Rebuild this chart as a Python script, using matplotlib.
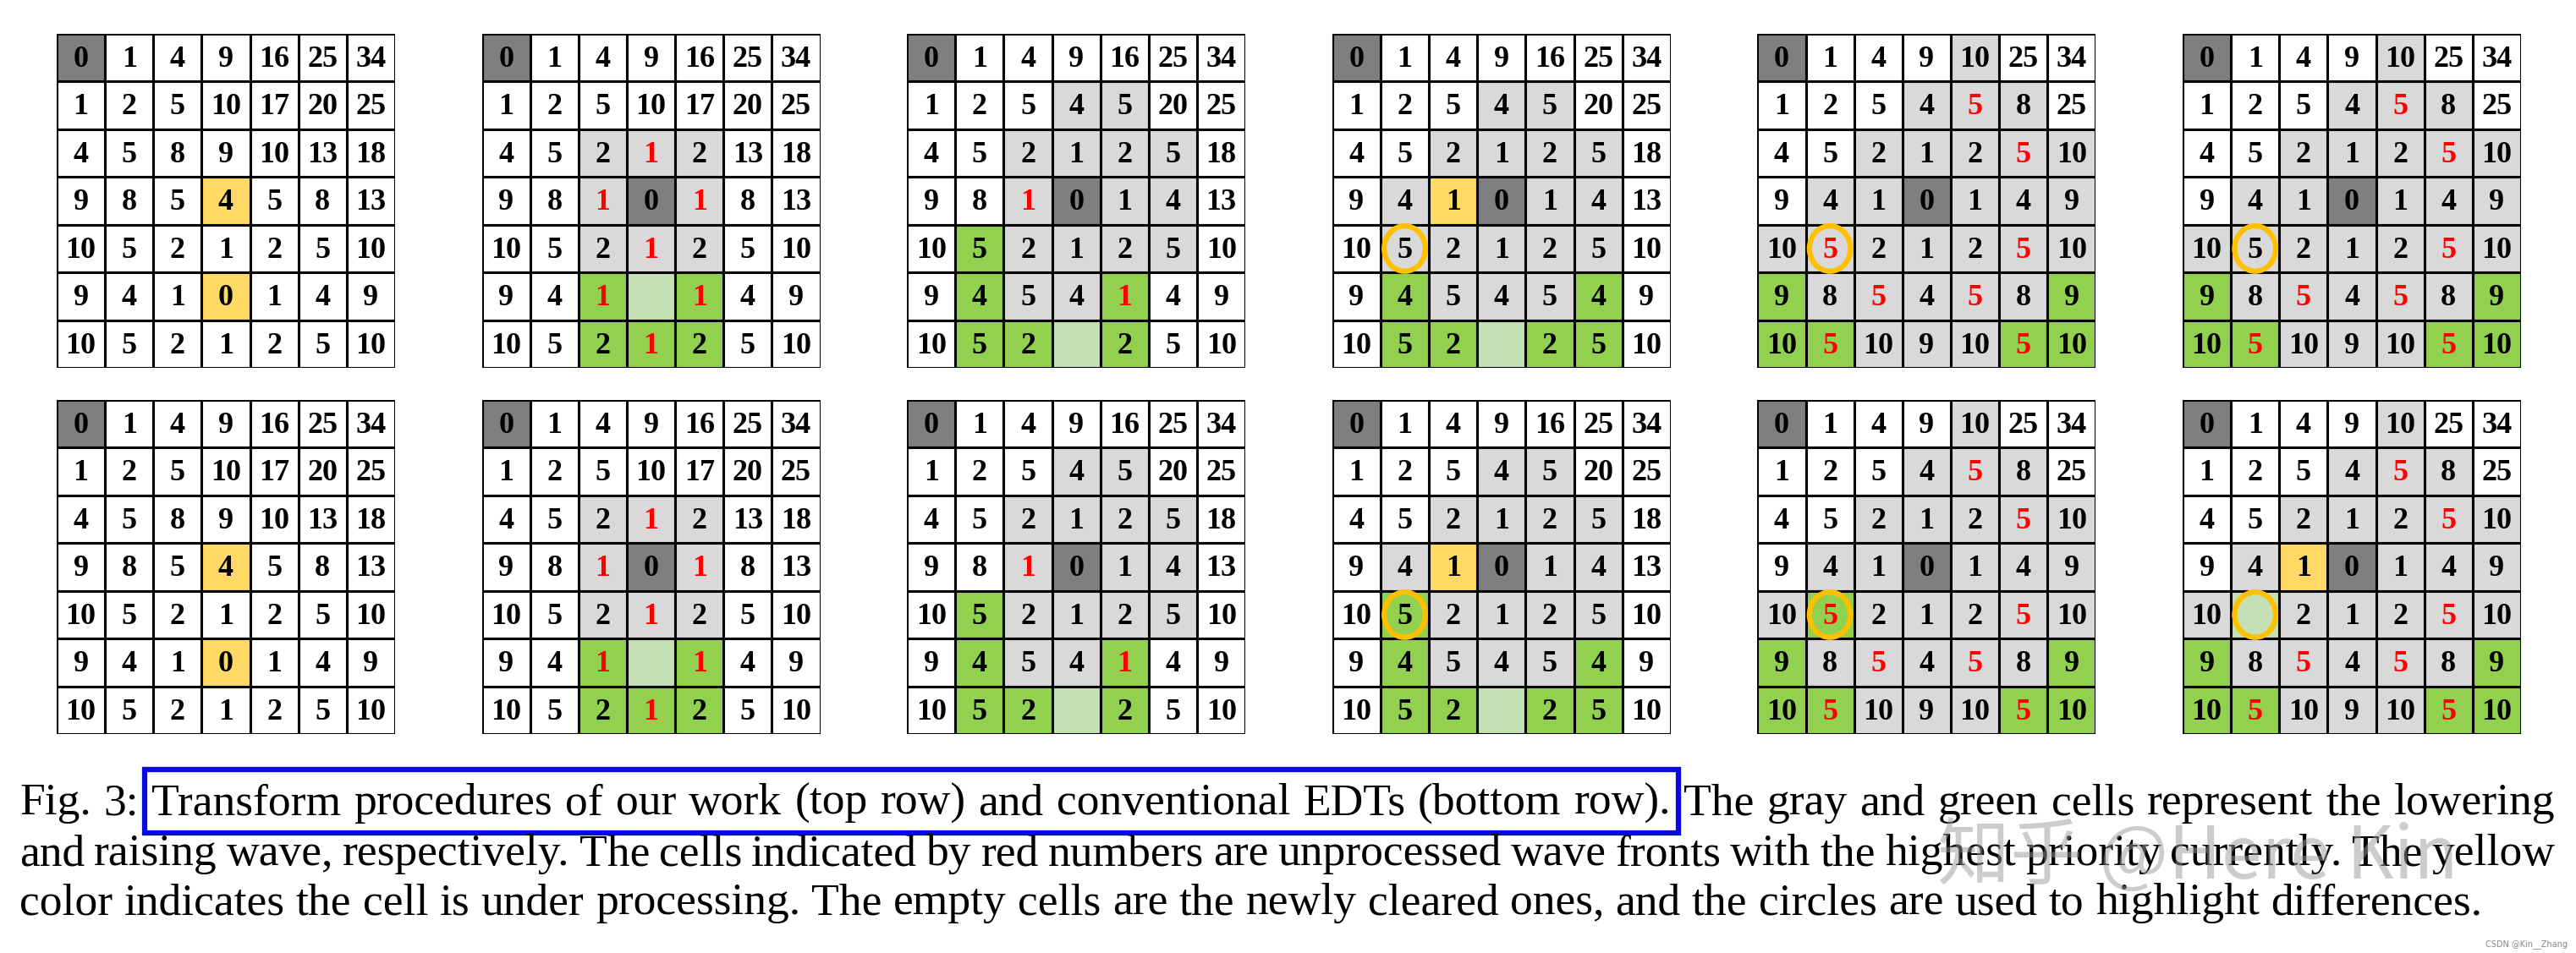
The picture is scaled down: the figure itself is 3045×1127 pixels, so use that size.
import matplotlib
matplotlib.use("Agg")
import matplotlib.pyplot as plt
from matplotlib.patches import Rectangle, Ellipse

# ---------------- data ----------------
T1_VALUES = ["0 1 4 9 16 25 34", "1 2 5 10 17 20 25", "4 5 8 9 10 13 18",
             "9 8 5 4 5 8 13", "10 5 2 1 2 5 10", "9 4 1 0 1 4 9", "10 5 2 1 2 5 10"]
T1_COLORS = ["DWWWWWW", "WWWWWWW", "WWWWWWW", "WWWYWWW", "WWWWWWW", "WWWYWWW", "WWWWWWW"]

T2_VALUES = ["0 1 4 9 16 25 34", "1 2 5 10 17 20 25", "4 5 2 1r 2 13 18",
             "9 8 1r 0 1r 8 13", "10 5 2 1r 2 5 10", "9 4 1r - 1r 4 9", "10 5 2 1r 2 5 10"]
T2_COLORS = ["DWWWWWW", "WWWWWWW", "WWGGGWW", "WWGDGWW", "WWGGGWW", "WWNLNWW", "WWNNNWW"]

T3_VALUES = ["0 1 4 9 16 25 34", "1 2 5 4 5 20 25", "4 5 2 1 2 5 18",
             "9 8 1r 0 1 4 13", "10 5 2 1 2 5 10", "9 4 5 4 1r 4 9", "10 5 2 - 2 5 10"]
T3_COLORS = ["DWWWWWW", "WWWGGWW", "WWGGGGW", "WWGDGGW", "WNGGGGW", "WNGGNWW", "WNNLNWW"]

T4_VALUES = ["0 1 4 9 16 25 34", "1 2 5 4 5 20 25", "4 5 2 1 2 5 18",
             "9 4 1 0 1 4 13", "10 5 2 1 2 5 10", "9 4 5 4 5 4 9", "10 5 2 - 2 5 10"]
T4_COLORS = ["DWWWWWW", "WWWGGWW", "WWGGGGW", "WGYDGGW", "WGGGGGW", "WNGGGNW", "WNNLNNW"]
B4_COLORS = ["DWWWWWW", "WWWGGWW", "WWGGGGW", "WGYDGGW", "WNGGGGW", "WNGGGNW", "WNNLNNW"]

T5_VALUES = ["0 1 4 9 10 25 34", "1 2 5 4 5r 8 25", "4 5 2 1 2 5r 10",
             "9 4 1 0 1 4 9", "10 5r 2 1 2 5r 10", "9 8 5r 4 5r 8 9", "10 5r 10 9 10 5r 10"]
T5_COLORS = ["DWWWGWW", "WWWGGGW", "WWGGGGG", "WGGDGGG", "GGGGGGG", "NGGGGGN", "NNGGGNN"]
B5_COLORS = ["DWWWGWW", "WWWGGGW", "WWGGGGG", "WGGDGGG", "GNGGGGG", "NGGGGGN", "NNGGGNN"]

T6_VALUES = ["0 1 4 9 10 25 34", "1 2 5 4 5r 8 25", "4 5 2 1 2 5r 10",
             "9 4 1 0 1 4 9", "10 5 2 1 2 5r 10", "9 8 5r 4 5r 8 9", "10 5r 10 9 10 5r 10"]
B6_VALUES = ["0 1 4 9 10 25 34", "1 2 5 4 5r 8 25", "4 5 2 1 2 5r 10",
             "9 4 1 0 1 4 9", "10 - 2 1 2 5r 10", "9 8 5r 4 5r 8 9", "10 5r 10 9 10 5r 10"]
B6_COLORS = ["DWWWGWW", "WWWGGGW", "WWGGGGG", "WGYDGGG", "GLGGGGG", "NGGGGGN", "NNGGGNN"]

# (values, colors, circled cell or None)
TOP_ROW = [(T1_VALUES, T1_COLORS, None), (T2_VALUES, T2_COLORS, None),
           (T3_VALUES, T3_COLORS, None), (T4_VALUES, T4_COLORS, (4, 1)),
           (T5_VALUES, T5_COLORS, (4, 1)), (T6_VALUES, T5_COLORS, (4, 1))]
BOTTOM_ROW = [(T1_VALUES, T1_COLORS, None), (T2_VALUES, T2_COLORS, None),
              (T3_VALUES, T3_COLORS, None), (T4_VALUES, B4_COLORS, (4, 1)),
              (T5_VALUES, B5_COLORS, (4, 1)), (B6_VALUES, B6_COLORS, (4, 1))]

CAPTION_LINES = [
    "Fig. 3: Transform procedures of our work (top row) and conventional EDTs (bottom row). The gray and green cells represent the lowering",
    "and raising wave, respectively. The cells indicated by red numbers are unprocessed wave fronts with the highest priority currently. The yellow",
    "color indicates the cell is under processing. The empty cells are the newly cleared ones, and the circles are used to highlight differences.",
]

# ---------------- styling ----------------
FILL = {"W": "#ffffff", "G": "#d9d9d9", "D": "#7f7f7f", "N": "#92d050",
        "L": "#c5e0b4", "Y": "#ffd966"}
W, H = 3045, 1127
fig = plt.figure(figsize=(W / 100, H / 100), dpi=100)
fig.patch.set_facecolor("white")

GRID_W, GRID_H = 400, 395
X0 = [67 + 502.6 * i for i in range(6)]
Y0 = [40, 473]


def draw_grid(x, y, values, colors, circle):
    ax = fig.add_axes([x / W, 1 - (y + GRID_H) / H, GRID_W / W, GRID_H / H])
    ax.set_xlim(0, 7)
    ax.set_ylim(7, 0)
    ax.axis("off")
    for r in range(7):
        toks = values[r].split()
        for c in range(7):
            ax.add_patch(Rectangle((c, r), 1, 1, facecolor=FILL[colors[r][c]],
                                   edgecolor="black", linewidth=2.2))
            t = toks[c]
            if t == "-":
                continue
            red = t.endswith("r")
            ax.text(c + 0.5, r + 0.54, t.rstrip("r"), ha="center", va="center",
                    fontsize=26, fontweight="bold", family="Liberation Serif",
                    color="#ff0000" if red else "black")
    if circle is not None:
        r, c = circle
        ax.add_patch(Ellipse((c + 0.5, r + 0.5), 0.85, 0.95, fill=False,
                             edgecolor="#ffc000", linewidth=4.5))


for row_y, row in zip(Y0, [TOP_ROW, BOTTOM_ROW]):
    for x, (v, col, circ) in zip(X0, row):
        draw_grid(x, row_y, v, col, circ)

# ---------------- caption ----------------
cax = fig.add_axes([0, 0, 1, 1])
cax.set_xlim(0, W)
cax.set_ylim(H, 0)
cax.axis("off")
fig.canvas.draw()
renderer = fig.canvas.get_renderer()

FS = 38.5
LINE_Y = [950, 1010, 1068]
LEFT, RIGHT = 23, 3020
for i, (line, ly) in enumerate(zip(CAPTION_LINES, LINE_Y)):
    words = line.split()
    texts = [cax.text(0, ly, w, fontsize=FS, family="Liberation Serif",
                      ha="left", va="center") for w in words]
    widths = [t.get_window_extent(renderer).width for t in texts]
    if i < 2:
        gap = (RIGHT - LEFT - sum(widths)) / (len(words) - 1)
    else:
        gap = FS * 1.39 * 0.25
    xpos = LEFT
    for t, w in zip(texts, widths):
        t.set_x(xpos)
        xpos += w + gap

cax.add_patch(Rectangle((171, 910), 1813, 75, fill=False, edgecolor="#0a0ae0",
                        linewidth=4.5))

# watermarks
cax.text(2290, 1015, "知乎 @Here Kin", fontsize=62, color="#9a9a9a", alpha=0.5,
         family=["Noto Sans CJK SC", "DejaVu Sans"], ha="left", va="center")
cax.text(3035, 1117, "CSDN @Kin__Zhang", fontsize=7, color="#888888",
         ha="right", va="center")

fig.savefig("out.png", dpi=100, facecolor="white")
